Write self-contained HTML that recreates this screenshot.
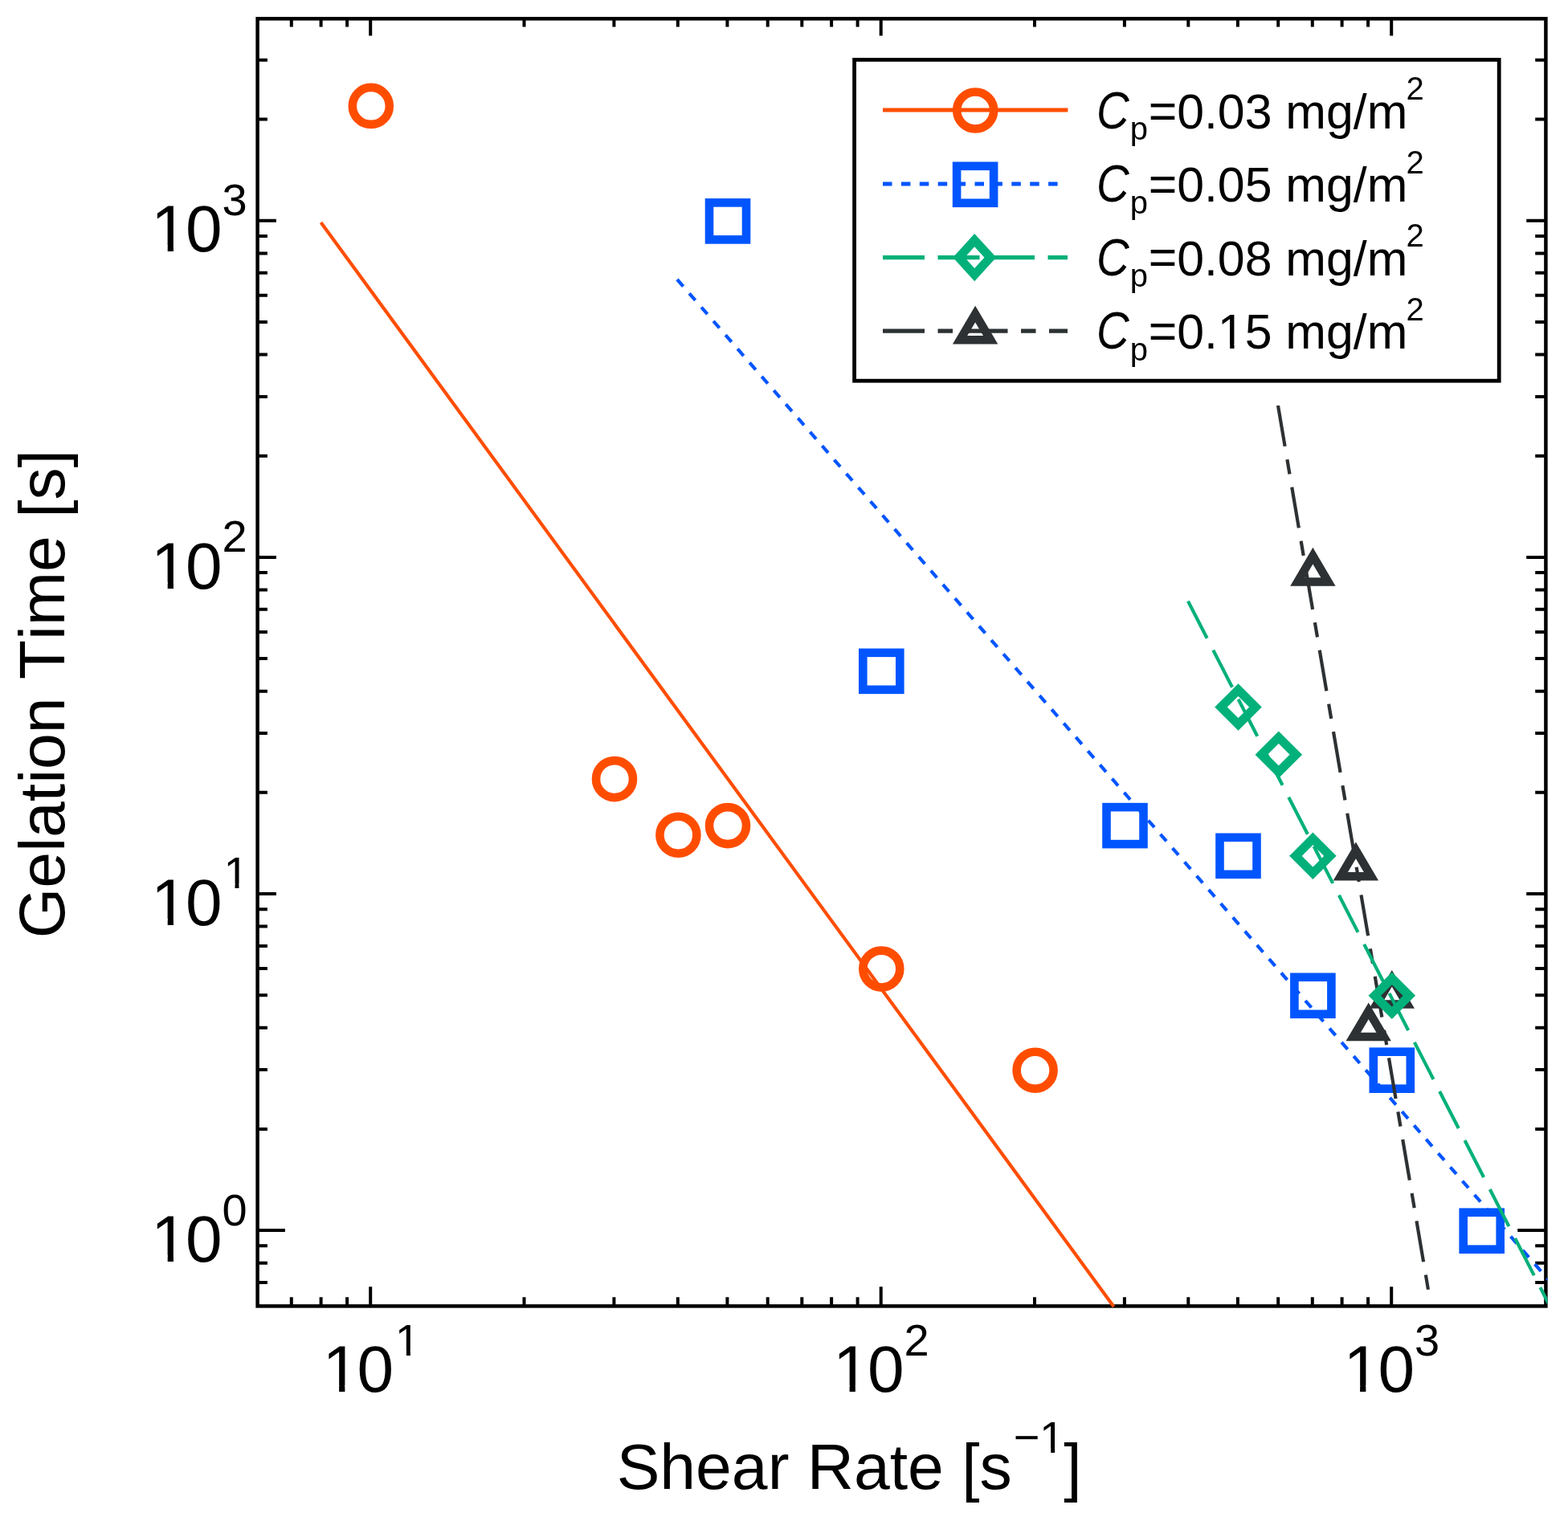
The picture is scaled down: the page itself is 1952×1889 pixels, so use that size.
<!DOCTYPE html>
<html><head><meta charset="utf-8"><title>Gelation Time vs Shear Rate</title><style>
html,body{margin:0;padding:0;background:#fff;width:1952px;height:1889px;overflow:hidden;}
svg{display:block;}
text{font-family:"Liberation Sans",Arial,Helvetica,sans-serif;fill:#000;font-kerning:none;}
</style></head><body>
<svg width="1952" height="1889" viewBox="0 0 1952 1889">
<rect x="0" y="0" width="1952" height="1889" fill="#fff"/>
<defs><clipPath id="plot"><rect x="318.6" y="21.3" width="1607.8" height="1607.1"/></clipPath></defs>
<path d="M362.8 1626.4V1615.2M362.8 23.3V33.5M399.6 1626.4V1615.2M399.6 23.3V33.5M432.1 1626.4V1615.2M432.1 23.3V33.5M461.2 1626.4V1602.2M461.2 23.3V44.5M652.5 1626.4V1615.2M652.5 23.3V33.5M764.4 1626.4V1615.2M764.4 23.3V33.5M843.8 1626.4V1615.2M843.8 23.3V33.5M905.4 1626.4V1615.2M905.4 23.3V33.5M955.7 1626.4V1615.2M955.7 23.3V33.5M998.3 1626.4V1615.2M998.3 23.3V33.5M1035.1 1626.4V1615.2M1035.1 23.3V33.5M1067.6 1626.4V1615.2M1067.6 23.3V33.5M1096.7 1626.4V1602.2M1096.7 23.3V44.5M1288.0 1626.4V1615.2M1288.0 23.3V33.5M1399.9 1626.4V1615.2M1399.9 23.3V33.5M1479.3 1626.4V1615.2M1479.3 23.3V33.5M1540.9 1626.4V1615.2M1540.9 23.3V33.5M1591.2 1626.4V1615.2M1591.2 23.3V33.5M1633.8 1626.4V1615.2M1633.8 23.3V33.5M1670.6 1626.4V1615.2M1670.6 23.3V33.5M1703.1 1626.4V1615.2M1703.1 23.3V33.5M1732.2 1626.4V1602.2M1732.2 23.3V44.5M320.6 1597.0H332.9M1924.4 1597.0H1911.2M320.6 1572.7H332.9M1924.4 1572.7H1911.2M320.6 1551.3H332.9M1924.4 1551.3H1911.2M320.6 1532.1H354.9M1924.4 1532.1H1889.2M320.6 1405.9H332.9M1924.4 1405.9H1911.2M320.6 1332.1H332.9M1924.4 1332.1H1911.2M320.6 1279.8H332.9M1924.4 1279.8H1911.2M320.6 1239.2H332.9M1924.4 1239.2H1911.2M320.6 1206.0H332.9M1924.4 1206.0H1911.2M320.6 1177.9H332.9M1924.4 1177.9H1911.2M320.6 1153.6H332.9M1924.4 1153.6H1911.2M320.6 1132.2H332.9M1924.4 1132.2H1911.2M320.6 1113.0H343.9M1924.4 1113.0H1900.2M320.6 986.8H332.9M1924.4 986.8H1911.2M320.6 913.0H332.9M1924.4 913.0H1911.2M320.6 860.7H332.9M1924.4 860.7H1911.2M320.6 820.1H332.9M1924.4 820.1H1911.2M320.6 786.9H332.9M1924.4 786.9H1911.2M320.6 758.8H332.9M1924.4 758.8H1911.2M320.6 734.5H332.9M1924.4 734.5H1911.2M320.6 713.1H332.9M1924.4 713.1H1911.2M320.6 693.9H343.9M1924.4 693.9H1900.2M320.6 567.7H332.9M1924.4 567.7H1911.2M320.6 493.9H332.9M1924.4 493.9H1911.2M320.6 441.6H332.9M1924.4 441.6H1911.2M320.6 401.0H332.9M1924.4 401.0H1911.2M320.6 367.8H332.9M1924.4 367.8H1911.2M320.6 339.7H332.9M1924.4 339.7H1911.2M320.6 315.4H332.9M1924.4 315.4H1911.2M320.6 294.0H332.9M1924.4 294.0H1911.2M320.6 274.8H343.9M1924.4 274.8H1900.2M320.6 148.6H332.9M1924.4 148.6H1911.2M320.6 74.8H332.9M1924.4 74.8H1911.2" stroke="#000" stroke-width="4.0" fill="none"/>
<rect x="320.6" y="23.3" width="1603.8" height="1603.1" fill="none" stroke="#000" stroke-width="4.5"/>
<g clip-path="url(#plot)">
<path d="M399.5 277L1386.5 1627" stroke="#ff4d00" stroke-width="4.2" fill="none"/>
<circle cx="461.8" cy="131.9" r="23" stroke="#ff4d00" stroke-width="10.6" fill="none"/>
<circle cx="765.0" cy="970.1" r="23" stroke="#ff4d00" stroke-width="10.6" fill="none"/>
<circle cx="844.4" cy="1039.8" r="23" stroke="#ff4d00" stroke-width="10.6" fill="none"/>
<circle cx="906.0" cy="1028.1" r="23" stroke="#ff4d00" stroke-width="10.6" fill="none"/>
<circle cx="1097.3" cy="1206.6" r="23" stroke="#ff4d00" stroke-width="10.6" fill="none"/>
<circle cx="1288.6" cy="1332.7" r="23" stroke="#ff4d00" stroke-width="10.6" fill="none"/>
<path d="M843 348L1928 1594" stroke="#0055ff" stroke-width="4.2" fill="none" stroke-dasharray="11.5 11.4"/>
<rect x="883.0" y="252.4" width="46" height="46" stroke="#0055ff" stroke-width="10.6" fill="none"/>
<rect x="1074.3" y="812.8" width="46" height="46" stroke="#0055ff" stroke-width="10.6" fill="none"/>
<rect x="1377.5" y="1005.1" width="46" height="46" stroke="#0055ff" stroke-width="10.6" fill="none"/>
<rect x="1518.5" y="1042.8" width="46" height="46" stroke="#0055ff" stroke-width="10.6" fill="none"/>
<rect x="1611.4" y="1216.8" width="46" height="46" stroke="#0055ff" stroke-width="10.6" fill="none"/>
<rect x="1709.8" y="1309.7" width="46" height="46" stroke="#0055ff" stroke-width="10.6" fill="none"/>
<rect x="1821.7" y="1509.7" width="46" height="46" stroke="#0055ff" stroke-width="10.6" fill="none"/>
<path d="M1591 505L1778 1606" stroke="#2d3133" stroke-width="4.2" fill="none" stroke-dasharray="51.5 16.5 18.5 16.5"/>
<path d="M1634.4 692.2L1653.4 724.4L1615.4 724.4Z" stroke="#2d3133" stroke-width="10.5" fill="none" stroke-miterlimit="10"/>
<path d="M1687.9 1058.9L1706.9 1091.2L1668.9 1091.2Z" stroke="#2d3133" stroke-width="10.5" fill="none" stroke-miterlimit="10"/>
<path d="M1703.7 1258.9L1722.7 1291.1L1684.7 1291.1Z" stroke="#2d3133" stroke-width="10.5" fill="none" stroke-miterlimit="10"/>
<path d="M1732.8 1218.3L1751.8 1250.5L1713.8 1250.5Z" stroke="#2d3133" stroke-width="10.5" fill="none" stroke-miterlimit="10"/>
<path d="M1479 748.6L1928 1623.7" stroke="#02b07a" stroke-width="4.2" fill="none" stroke-dasharray="51.8 16.8"/>
<path d="M1520.0 880.5L1541.5 859.0L1563.0 880.5L1541.5 902.0Z" stroke="#02b07a" stroke-width="11" fill="none" stroke-miterlimit="10"/>
<path d="M1570.3 939.7L1591.8 918.2L1613.3 939.7L1591.8 961.2Z" stroke="#02b07a" stroke-width="11" fill="none" stroke-miterlimit="10"/>
<path d="M1612.9 1065.8L1634.4 1044.3L1655.9 1065.8L1634.4 1087.3Z" stroke="#02b07a" stroke-width="11" fill="none" stroke-miterlimit="10"/>
<path d="M1711.3 1239.8L1732.8 1218.3L1754.3 1239.8L1732.8 1261.3Z" stroke="#02b07a" stroke-width="11" fill="none" stroke-miterlimit="10"/>
</g>
<rect x="1063.6" y="74.4" width="802.6" height="399.8" fill="#fff" stroke="#000" stroke-width="4.8"/>
<g fill="none" stroke-width="5.2">
<path d="M1099 137.0H1329.4" stroke="#ff4d00"/>
<path d="M1099 229.0H1317" stroke="#0055ff" stroke-dasharray="11.5 11.4"/>
<path d="M1099 320.6H1329" stroke="#02b07a" stroke-dasharray="52 16.5"/>
<path d="M1099 412.2H1329" stroke="#2d3133" stroke-dasharray="52 16.5 18.5 16.5"/>
</g>
<circle cx="1214.2" cy="137.5" r="23" stroke="#ff4d00" stroke-width="10.6" fill="none"/>
<rect x="1191.1" y="206.8" width="46" height="46" stroke="#0055ff" stroke-width="10.6" fill="none"/>
<path d="M1193.6 320.6L1213.2 299.1L1232.8 320.6L1213.2 342.1Z" stroke="#02b07a" stroke-width="11" fill="none" stroke-miterlimit="10"/>
<path d="M1214.1 391.0L1233.1 423.2L1195.1 423.2Z" stroke="#2d3133" stroke-width="10.5" fill="none" stroke-miterlimit="10"/>
<text transform="translate(1364.95 159.8) scale(0.86 1)" font-size="65.5" font-style="italic">C</text>
<text x="1406.78" y="174.4" font-size="40">p</text>
<text x="1429.63" y="159.8" font-size="60.8"><tspan dy="-1.2">=</tspan><tspan dy="1.2">0.03 mg/m</tspan></text>
<text x="1750.53" y="124.3" font-size="40">2</text>
<text transform="translate(1364.95 251.23) scale(0.86 1)" font-size="65.5" font-style="italic">C</text>
<text x="1406.78" y="265.83" font-size="40">p</text>
<text x="1429.63" y="251.23" font-size="60.8"><tspan dy="-1.2">=</tspan><tspan dy="1.2">0.05 mg/m</tspan></text>
<text x="1750.53" y="215.73" font-size="40">2</text>
<text transform="translate(1364.95 342.66) scale(0.86 1)" font-size="65.5" font-style="italic">C</text>
<text x="1406.78" y="357.26" font-size="40">p</text>
<text x="1429.63" y="342.66" font-size="60.8"><tspan dy="-1.2">=</tspan><tspan dy="1.2">0.08 mg/m</tspan></text>
<text x="1750.53" y="307.16" font-size="40">2</text>
<text transform="translate(1364.95 434.09) scale(0.86 1)" font-size="65.5" font-style="italic">C</text>
<text x="1406.78" y="448.69" font-size="40">p</text>
<text x="1429.63" y="434.09" font-size="60.8"><tspan dy="-1.2">=</tspan><tspan dy="1.2">0.15 mg/m</tspan></text>
<text x="1750.53" y="398.59" font-size="40">2</text>
<text y="1732.7" font-size="82"><tspan x="401.48">1</tspan><tspan x="444.4">0</tspan></text>
<text x="491.84" y="1687.5" font-size="56">1</text>
<text y="1732.7" font-size="82"><tspan x="1036.98">1</tspan><tspan x="1079.9">0</tspan></text>
<text x="1125.51" y="1687.5" font-size="56">2</text>
<text y="1732.7" font-size="82"><tspan x="1672.48">1</tspan><tspan x="1715.4">0</tspan></text>
<text x="1761.01" y="1687.5" font-size="56">3</text>
<text y="313.4" font-size="82"><tspan x="188.08">1</tspan><tspan x="231">0</tspan></text>
<text x="276.61" y="268.2" font-size="56">3</text>
<text y="732.5" font-size="82"><tspan x="188.08">1</tspan><tspan x="231">0</tspan></text>
<text x="276.61" y="687.3" font-size="56">2</text>
<text y="1151.6" font-size="82"><tspan x="188.08">1</tspan><tspan x="231">0</tspan></text>
<text x="278.44" y="1106.4" font-size="56">1</text>
<text y="1570.7" font-size="82"><tspan x="188.08">1</tspan><tspan x="231">0</tspan></text>
<text x="276.61" y="1525.5" font-size="56">0</text>
<text x="767.64" y="1854.2" font-size="80.5">Shear Rate [s</text>
<text x="1261.84" y="1809" font-size="56">−<tspan x="1294.11">1</tspan></text>
<text x="1324.37" y="1854.2" font-size="80.5">]</text>
<text transform="translate(79.5 1168.25) rotate(-90)" font-size="80.5">Gelation Time [s]</text>
<g fill="#fff"><rect x="1518.88" y="427.95" width="12.26" height="7.74"/><rect x="1536.51" y="427.95" width="11.78" height="7.74"/><rect x="406.13" y="1724.97" width="15.97" height="9.33"/><rect x="429.35" y="1724.97" width="15.33" height="9.33"/><rect x="494.51" y="1681.72" width="11.42" height="7.38"/><rect x="510.87" y="1681.72" width="10.98" height="7.38"/><rect x="1041.63" y="1724.97" width="15.97" height="9.33"/><rect x="1064.85" y="1724.97" width="15.33" height="9.33"/><rect x="1677.13" y="1724.97" width="15.97" height="9.33"/><rect x="1700.35" y="1724.97" width="15.33" height="9.33"/><rect x="192.73" y="305.67" width="15.97" height="9.33"/><rect x="215.95" y="305.67" width="15.33" height="9.33"/><rect x="192.73" y="724.77" width="15.97" height="9.33"/><rect x="215.95" y="724.77" width="15.33" height="9.33"/><rect x="192.73" y="1143.87" width="15.97" height="9.33"/><rect x="215.95" y="1143.87" width="15.33" height="9.33"/><rect x="281.11" y="1100.62" width="11.42" height="7.38"/><rect x="297.47" y="1100.62" width="10.98" height="7.38"/><rect x="192.73" y="1562.97" width="15.97" height="9.33"/><rect x="215.95" y="1562.97" width="15.33" height="9.33"/><rect x="1296.78" y="1803.22" width="11.42" height="7.38"/><rect x="1313.14" y="1803.22" width="10.98" height="7.38"/></g>
</svg></body></html>
